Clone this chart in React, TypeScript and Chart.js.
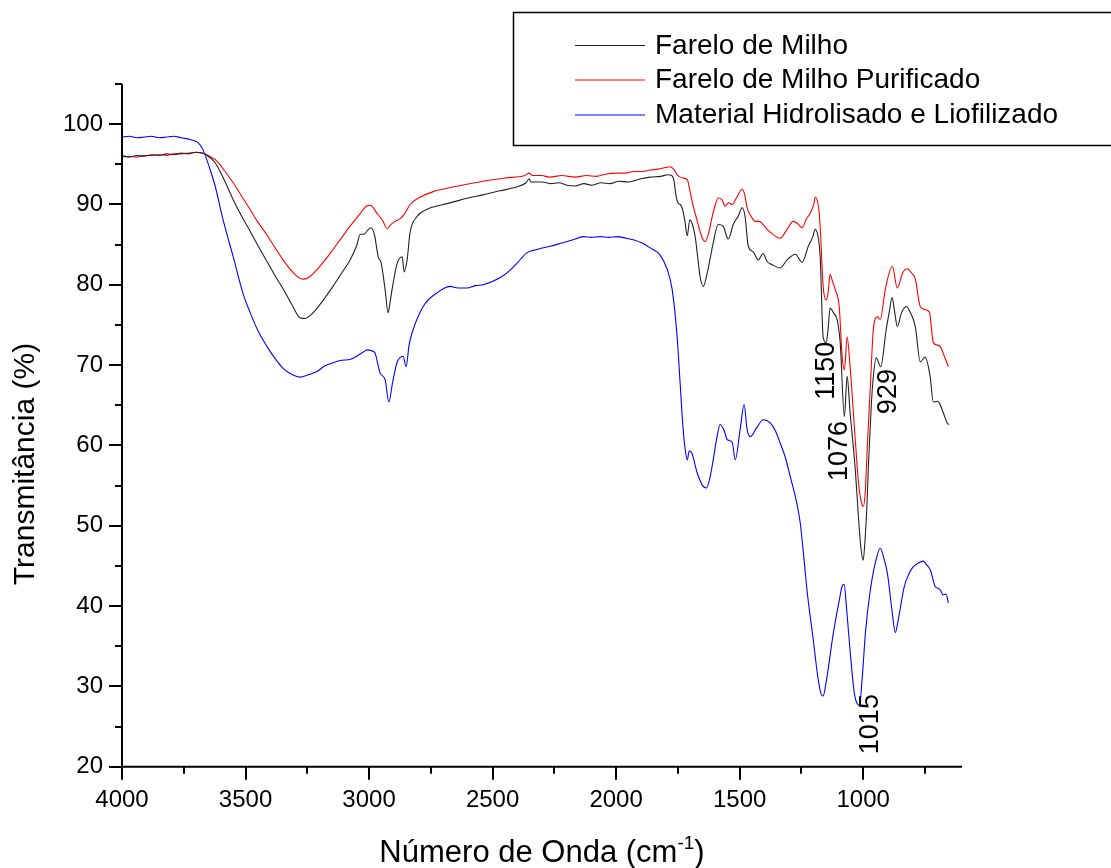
import React, { useEffect, useRef } from 'react';
import { Chart, registerables } from 'chart.js';

Chart.register(...registerables);

const FONT = '"Liberation Sans", Arial, Helvetica, sans-serif';

// Legend entries
const seriesNames = [
  'Farelo de Milho',
  'Farelo de Milho Purificado',
  'Material Hidrolisado e Liofilizado',
];
const seriesColors = ['#222222', '#ff0000', '#0000ff'];

// FTIR spectra: [wavenumber (cm-1), transmittance (%)]
const fareloMilho: number[][] = [
  [4000, 96.1], [3970, 95.9], [3940, 96.1], [3910, 96.0], [3880, 96.2], [3850, 96.1], [3820, 96.3],
  [3790, 96.2], [3760, 96.4], [3730, 96.3], [3700, 96.5], [3680, 96.4], [3660, 96.2], [3623, 95.2],
  [3590, 93.3], [3550, 90.6], [3515, 88.5], [3482, 86.7], [3450, 84.9], [3413, 82.9], [3380, 81.1],
  [3348, 79.5], [3310, 77.4], [3280, 75.9], [3260, 75.8], [3230, 76.4], [3190, 77.9], [3146, 79.8],
  [3110, 81.5], [3077, 83.1], [3050, 84.9], [3036, 86.3], [3020, 86.3], [3005, 86.8], [2992, 87.1],
  [2978, 86.2], [2963, 83.5], [2951, 82.7], [2935, 79.4], [2923, 76.5], [2915, 77.8], [2907, 79.4],
  [2886, 82.7], [2866, 83.5], [2858, 81.6], [2846, 83.1], [2834, 86.5], [2806, 88.5], [2765, 89.4],
  [2700, 90.0], [2672, 90.2], [2600, 90.8], [2538, 91.2], [2470, 91.7], [2401, 92.2], [2365, 92.7],
  [2352, 93.2], [2345, 92.8], [2300, 92.8], [2267, 92.6], [2230, 92.7], [2200, 92.4], [2166, 92.3],
  [2130, 92.6], [2100, 92.4], [2060, 92.7], [2024, 92.6], [1990, 92.9], [1950, 92.8], [1900, 93.2],
  [1862, 93.4], [1820, 93.5], [1790, 93.7], [1775, 93.6], [1766, 93.0], [1758, 91.2], [1750, 90.2],
  [1741, 90.0], [1732, 89.5], [1722, 88.0], [1712, 86.1], [1702, 88.1], [1692, 87.6], [1680, 86.0],
  [1670, 83.5], [1660, 81.0], [1647, 79.8], [1631, 81.5], [1607, 85.2], [1587, 87.5], [1567, 87.3],
  [1546, 85.7], [1526, 87.5], [1505, 88.6], [1490, 89.6], [1478, 88.5], [1465, 84.8], [1445, 84.1],
  [1425, 83.1], [1405, 83.9], [1389, 82.9], [1368, 82.5], [1336, 82.1], [1308, 83.1], [1275, 83.8],
  [1247, 82.8], [1222, 84.8], [1205, 85.9], [1194, 86.9], [1180, 85.5], [1174, 83.5], [1162, 73.5],
  [1150, 72.8], [1142, 74.5], [1134, 77.1], [1120, 76.5], [1105, 75.6], [1093, 72.8], [1076, 63.6],
  [1065, 68.6], [1053, 64.1], [1032, 57.0], [1020, 51.5], [1010, 47.5], [1000, 45.7], [993, 48.0],
  [985, 52.4], [978, 58.0], [968, 64.5], [960, 68.2], [947, 70.9], [929, 69.8], [907, 74.4],
  [895, 76.5], [883, 78.4], [872, 76.5], [862, 74.8], [845, 76.5], [826, 77.3], [808, 76.5],
  [789, 74.8], [769, 70.4], [749, 71.0], [729, 68.6], [716, 65.4], [700, 65.5], [692, 65.3],
  [675, 64.0], [660, 62.8], [652, 62.6],
];

const fareloPurificado: number[][] = [
  [4000, 95.9], [3970, 96.0], [3940, 95.9], [3910, 96.1], [3880, 96.1], [3850, 96.2], [3820, 96.1],
  [3790, 96.3], [3760, 96.3], [3730, 96.4], [3700, 96.5], [3672, 96.4], [3645, 96.0], [3616, 95.4],
  [3585, 94.2], [3550, 92.7], [3515, 91.0], [3482, 89.4], [3450, 87.8], [3413, 86.2], [3380, 84.6],
  [3348, 83.1], [3310, 81.6], [3280, 80.8], [3265, 80.7], [3240, 81.0], [3211, 81.9], [3180, 83.0],
  [3146, 84.4], [3110, 85.9], [3077, 87.3], [3040, 88.7], [3010, 89.8], [2995, 89.9], [2968, 88.9],
  [2945, 88.0], [2927, 87.0], [2915, 87.4], [2895, 87.9], [2875, 88.2], [2855, 88.9], [2834, 90.0],
  [2800, 90.8], [2740, 91.6], [2640, 92.3], [2538, 92.9], [2450, 93.3], [2370, 93.6], [2352, 93.9],
  [2340, 93.6], [2300, 93.6], [2270, 93.4], [2220, 93.6], [2166, 93.4], [2120, 93.6], [2080, 93.5],
  [2040, 93.8], [1996, 93.9], [1960, 93.9], [1930, 94.1], [1900, 94.1], [1862, 94.3], [1830, 94.4],
  [1800, 94.6], [1781, 94.7], [1765, 94.3], [1753, 93.7], [1730, 93.3], [1712, 93.1], [1700, 91.5],
  [1688, 89.8], [1672, 88.0], [1660, 86.6], [1648, 85.6], [1639, 85.4], [1625, 86.5], [1611, 88.5],
  [1598, 90.0], [1587, 90.8], [1572, 90.6], [1559, 89.8], [1545, 90.2], [1530, 90.0], [1510, 91.0],
  [1490, 91.9], [1480, 91.3], [1470, 89.6], [1455, 88.6], [1437, 87.9], [1420, 87.9], [1405, 87.5],
  [1389, 86.9], [1370, 86.4], [1336, 85.8], [1310, 86.8], [1283, 87.9], [1265, 87.6], [1247, 87.1],
  [1230, 88.2], [1214, 88.9], [1200, 90.0], [1194, 90.9], [1180, 89.5], [1174, 87.2], [1162, 79.8],
  [1150, 78.1], [1142, 79.0], [1134, 81.3], [1125, 80.5], [1113, 79.4], [1097, 77.3], [1085, 71.0],
  [1076, 69.4], [1065, 73.5], [1053, 69.8], [1032, 60.7], [1020, 55.7], [1008, 53.0], [1000, 52.4],
  [992, 54.0], [983, 60.0], [970, 68.0], [959, 74.4], [943, 76.0], [931, 75.7], [910, 79.5],
  [882, 82.3], [862, 79.6], [840, 81.5], [822, 82.0], [805, 81.5], [789, 80.7], [769, 77.3],
  [749, 76.9], [732, 76.6], [716, 72.8], [700, 72.5], [688, 72.3], [670, 71.0], [655, 69.8],
];

const materialHidrolisado: number[][] = [
  [4000, 98.4], [3970, 98.5], [3940, 98.3], [3910, 98.4], [3880, 98.5], [3850, 98.3], [3820, 98.4],
  [3790, 98.5], [3760, 98.3], [3725, 98.1], [3705, 97.9], [3692, 97.7], [3672, 96.8], [3644, 94.4],
  [3623, 92.3], [3591, 88.1], [3550, 83.5], [3510, 78.9], [3482, 76.6], [3450, 74.3], [3413, 72.3],
  [3380, 70.8], [3348, 69.6], [3310, 68.8], [3279, 68.5], [3245, 68.8], [3211, 69.2], [3180, 69.9],
  [3146, 70.3], [3110, 70.6], [3077, 70.7], [3050, 71.1], [3025, 71.6], [3008, 71.9], [2990, 71.8],
  [2976, 71.5], [2955, 69.0], [2935, 68.2], [2920, 65.4], [2905, 67.8], [2887, 70.3], [2862, 71.1],
  [2850, 69.8], [2838, 72.5], [2826, 74.0], [2781, 77.3], [2725, 79.0], [2672, 79.8], [2640, 79.6],
  [2603, 79.6], [2570, 79.9], [2538, 80.0], [2469, 80.9], [2430, 81.8], [2401, 82.7], [2360, 84.0],
  [2320, 84.4], [2267, 84.8], [2220, 85.2], [2174, 85.6], [2133, 86.0], [2100, 85.9], [2065, 86.0],
  [2030, 85.9], [1996, 86.0], [1960, 85.8], [1931, 85.6], [1895, 85.2], [1862, 84.6], [1822, 83.7],
  [1793, 81.9], [1773, 79.4], [1753, 73.5], [1741, 67.8], [1730, 62.5], [1720, 59.4], [1712, 58.2],
  [1704, 59.3], [1696, 59.2], [1672, 56.6], [1650, 55.0], [1635, 54.7], [1620, 56.0], [1607, 58.2],
  [1592, 61.0], [1579, 62.6], [1562, 61.8], [1550, 60.7], [1530, 60.4], [1518, 58.2], [1498, 62.0],
  [1482, 65.1], [1470, 62.0], [1457, 61.1], [1429, 62.3], [1405, 63.2], [1376, 62.8], [1355, 61.8],
  [1336, 60.3], [1315, 58.5], [1295, 56.1], [1270, 53.0], [1255, 50.4], [1240, 46.0], [1226, 41.6],
  [1202, 35.8], [1185, 31.5], [1170, 29.0], [1162, 28.8], [1150, 30.5], [1121, 36.6], [1095, 41.0],
  [1085, 42.5], [1077, 42.7], [1068, 40.0], [1052, 34.1], [1035, 29.0], [1015, 27.6], [1004, 31.0],
  [990, 37.0], [971, 42.0], [950, 45.5], [931, 47.2], [915, 45.8], [902, 44.1], [882, 39.1],
  [870, 36.7], [858, 38.3], [834, 42.4], [815, 44.0], [797, 44.9], [775, 45.4], [757, 45.6],
  [745, 45.2], [728, 44.5], [708, 42.4], [695, 42.2], [688, 42.0], [676, 41.4], [665, 41.5],
  [655, 40.4],
];

// Axis ticks
const xMajorTicks = [4000, 3500, 3000, 2500, 2000, 1500, 1000];
const xMinorTicks = [3750, 3250, 2750, 2250, 1750, 1250, 750];
const yMajorTicks = [20, 30, 40, 50, 60, 70, 80, 90, 100];
const yMinorTicks = [25, 35, 45, 55, 65, 75, 85, 95, 105];

// Band assignments written next to the curves: text, wavenumber and transmittance of the text centre
const bandLabels = ['1150', '1076', '929', '1015'];
const bandLabelWn = [1150, 1097, 897, 971];
const bandLabelT = [69.3, 59.3, 66.7, 25.3];

const xTitle = 'Número de Onda (cm';
const xTitleSup = '-1';
const yTitle = 'Transmitância (%)';

const decorPlugin = {
  id: 'decor',
  afterDraw(chart: any) {
    const ctx: CanvasRenderingContext2D = chart.ctx;
    const xs = chart.scales.x;
    const ys = chart.scales.y;
    const { left, right, top, bottom } = chart.chartArea;
    ctx.save();

    // axis lines and tick marks
    ctx.strokeStyle = '#000';
    ctx.lineWidth = 2;
    ctx.beginPath();
    ctx.moveTo(left, top);
    ctx.lineTo(left, bottom);
    ctx.lineTo(right, bottom);
    xMajorTicks.forEach((v) => {
      const px = Math.round(xs.getPixelForValue(v));
      ctx.moveTo(px, bottom);
      ctx.lineTo(px, bottom + 13);
    });
    xMinorTicks.forEach((v) => {
      const px = Math.round(xs.getPixelForValue(v));
      ctx.moveTo(px, bottom);
      ctx.lineTo(px, bottom + 7);
    });
    yMajorTicks.forEach((v) => {
      const py = Math.round(ys.getPixelForValue(v));
      ctx.moveTo(left, py);
      ctx.lineTo(left - 13, py);
    });
    yMinorTicks.forEach((v) => {
      const py = Math.round(ys.getPixelForValue(v));
      ctx.moveTo(left, py);
      ctx.lineTo(left - 7, py);
    });
    ctx.stroke();

    // band labels, rotated
    ctx.fillStyle = '#000';
    ctx.font = `27px ${FONT}`;
    ctx.textAlign = 'center';
    ctx.textBaseline = 'middle';
    bandLabels.forEach((t, i) => {
      const px = xs.getPixelForValue(bandLabelWn[i]);
      const py = ys.getPixelForValue(bandLabelT[i]);
      ctx.save();
      ctx.translate(px, py);
      ctx.rotate(-Math.PI / 2);
      ctx.fillText(t, 0, 0);
      ctx.restore();
    });

    // y axis title
    ctx.save();
    ctx.font = `30px ${FONT}`;
    ctx.translate(26, 464);
    ctx.rotate(-Math.PI / 2);
    ctx.textAlign = 'center';
    ctx.textBaseline = 'middle';
    ctx.fillText(yTitle, 0, 0);
    ctx.restore();

    // x axis title with superscript
    ctx.save();
    ctx.textBaseline = 'alphabetic';
    ctx.textAlign = 'left';
    ctx.font = `31px ${FONT}`;
    const mainW = ctx.measureText(xTitle).width;
    const closeW = ctx.measureText(')').width;
    ctx.font = `19px ${FONT}`;
    const supW = ctx.measureText(xTitleSup).width;
    const total = mainW + supW + closeW;
    const cx = 542;
    const base = 862;
    let x0 = cx - total / 2;
    ctx.font = `31px ${FONT}`;
    ctx.fillText(xTitle, x0, base);
    x0 += mainW;
    ctx.font = `19px ${FONT}`;
    ctx.fillText(xTitleSup, x0, base - 13);
    x0 += supW;
    ctx.font = `31px ${FONT}`;
    ctx.fillText(')', x0, base);
    ctx.restore();

    // legend box
    ctx.lineWidth = 1.5;
    ctx.strokeStyle = '#000';
    ctx.strokeRect(513.5, 12.5, 620, 133);
    const rowsY = [45, 79.5, 114.5];
    ctx.font = `28px ${FONT}`;
    ctx.textAlign = 'left';
    ctx.textBaseline = 'middle';
    seriesNames.forEach((name, i) => {
      ctx.strokeStyle = seriesColors[i];
      ctx.lineWidth = 1;
      ctx.beginPath();
      ctx.moveTo(575, rowsY[i] + 0.5);
      ctx.lineTo(645, rowsY[i] + 0.5);
      ctx.stroke();
      ctx.fillStyle = '#000';
      ctx.fillText(name, 655, rowsY[i] + 1);
    });

    ctx.restore();
  },
};

export default function App() {
  const canvasRef = useRef<HTMLCanvasElement | null>(null);

  useEffect(() => {
    const canvas = canvasRef.current;
    if (!canvas) return;
    const toPoints = (arr: number[][]) => arr.map(([x, y]) => ({ x, y }));
    const allSeries = [fareloMilho, fareloPurificado, materialHidrolisado];
    const chart = new Chart(canvas, {
      type: 'line',
      data: {
        datasets: allSeries.map((s, i) => ({
          label: seriesNames[i],
          data: toPoints(s),
          borderColor: seriesColors[i],
          borderWidth: 1.1,
          pointRadius: 0,
          fill: false,
          cubicInterpolationMode: 'monotone' as const,
        })),
      },
      options: {
        responsive: false,
        animation: false,
        devicePixelRatio: 1,
        parsing: false,
        layout: { padding: { top: 84, right: 149, bottom: 0, left: 0 } },
        plugins: {
          legend: { display: false },
          tooltip: { enabled: false },
          title: { display: false },
        },
        scales: {
          x: {
            type: 'linear',
            reverse: true,
            min: 600,
            max: 4000,
            afterBuildTicks: (s: any) => {
              s.ticks = xMajorTicks.map((v) => ({ value: v }));
            },
            afterFit: (s: any) => {
              s.height = 101.3;
            },
            grid: { display: false, drawTicks: true, tickLength: 13 },
            border: { display: false },
            ticks: {
              autoSkip: false,
              maxRotation: 0,
              padding: 6,
              color: '#000',
              font: { family: FONT, size: 24 },
              callback: (v: any) => String(v),
            },
          },
          y: {
            type: 'linear',
            min: 20,
            max: 105,
            afterBuildTicks: (s: any) => {
              s.ticks = yMajorTicks.map((v) => ({ value: v }));
            },
            afterFit: (s: any) => {
              s.width = 122;
            },
            grid: { display: false, drawTicks: true, tickLength: 13 },
            border: { display: false },
            ticks: {
              autoSkip: false,
              padding: 6,
              color: '#000',
              font: { family: FONT, size: 24 },
              callback: (v: any) => String(v),
            },
          },
        },
      },
      plugins: [decorPlugin],
    });
    return () => chart.destroy();
  }, []);

  return (
    <div style={{ position: 'absolute', left: 0, top: 0, width: 1111, height: 868, background: '#fff' }}>
      <canvas ref={canvasRef} width={1111} height={868} style={{ display: 'block' }} />
    </div>
  );
}
